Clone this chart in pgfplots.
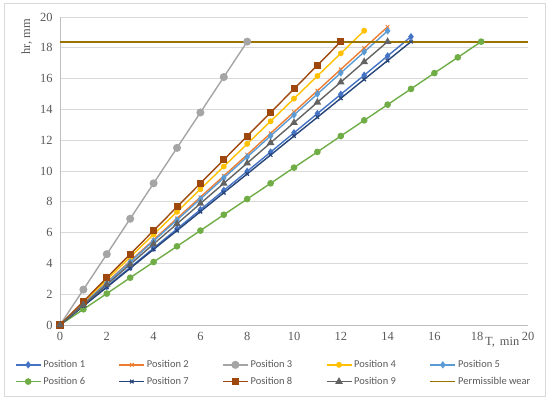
\documentclass[border=0pt]{standalone}
\usepackage{pgfplots}
\pgfplotsset{compat=1.18}
\usepackage{fontspec}
\setmainfont{Liberation Serif}
\newfontfamily\legfont{Carlito}
\definecolor{c1}{HTML}{4472C4}
\definecolor{c2}{HTML}{ED7D31}
\definecolor{c3}{HTML}{A5A5A5}
\definecolor{c4}{HTML}{FFC000}
\definecolor{c5}{HTML}{5B9BD5}
\definecolor{c6}{HTML}{70AD47}
\definecolor{c7}{HTML}{264478}
\definecolor{c8}{HTML}{9E480E}
\definecolor{c9}{HTML}{636363}
\definecolor{c10}{HTML}{997300}
\definecolor{txt}{HTML}{595959}
\definecolor{gridc}{HTML}{D9D9D9}
\definecolor{axc}{HTML}{BFBFBF}
\begin{document}
\begin{tikzpicture}
\path[use as bounding box] (0bp,0bp) rectangle (550bp,400bp);
\draw[gridc, line width=0.8bp] (4bp,4bp) rectangle (545bp,397bp);
\begin{axis}[
  at={(60bp,75bp)}, anchor=south west,
  scale only axis, width=468bp, height=308bp,
  xmin=0, xmax=20, ymin=0, ymax=20,
  xtick={0,2,...,18,20}, ytick={0,2,...,20},
  xticklabels={0,2,4,6,8,10,12,14,16,{18\hspace*{8bp}},20},
  axis line style={draw=none},
  ymajorgrids, grid style={gridc, line width=0.8bp},
  major tick length=0pt,
  tick label style={font=\fontsize{12.5}{14}\selectfont, text=txt},
  /pgf/number format/assume math mode=true,
  xticklabel style={yshift=-4bp},
  yticklabel style={xshift=-4bp},
  xlabel={T,\hspace{0.4em}min}, ylabel={hr, mm},
  label style={font=\fontsize{12.5}{14}\selectfont, text=txt},
  xlabel style={at={(axis description cs:0.908,-0.055)}, anchor=west, inner sep=0pt},
  ylabel style={at={(axis description cs:-0.071,0.935)}, anchor=center},
  clip=false,
  every axis plot/.append style={line width=1.4bp},
  legend columns=5,
  legend style={at={(axis description cs:-0.103,-0.108)}, anchor=north west, draw=none, fill=none,
    font=\legfont\fontsize{10.5}{12}\selectfont, text=txt,
    nodes={inner sep=0pt, anchor=west},
    row sep=8bp,
    /tikz/every odd column/.append style={column sep=2bp},
    /tikz/every even column/.append style={column sep=33.5bp}},
  legend cell align=left,
  legend image code/.code={\draw[mark repeat=2,mark phase=2] plot coordinates {(0bp,0bp) (12.5bp,0bp) (25bp,0bp)};},
]
\draw[axc, line width=0.8bp] (axis cs:0,0) -- (axis cs:20,0);
\draw[axc, line width=0.8bp] (axis cs:0,0) -- (axis cs:0,20);
\addplot[c1, mark=diamond*, mark size=2.6bp] coordinates {(0,0)(1,1.25)(2,2.50)(3,3.74)(4,4.99)(5,6.24)(6,7.49)(7,8.74)(8,9.98)(9,11.23)(10,12.48)(11,13.73)(12,14.98)(13,16.22)(14,17.47)(15,18.72)};
\addlegendentry{Position 1}
\addplot[c2, mark=x, mark size=2.5bp, mark options={line width=1bp}] coordinates {(0,0)(1,1.38)(2,2.77)(3,4.15)(4,5.53)(5,6.92)(6,8.30)(7,9.68)(8,11.06)(9,12.45)(10,13.83)(11,15.21)(12,16.60)(13,17.98)(14,19.36)};
\addlegendentry{Position 2}
\addplot[c3, mark=*, mark size=3.3bp] coordinates {(0,0)(1,2.3)(2,4.6)(3,6.9)(4,9.2)(5,11.5)(6,13.8)(7,16.1)(8,18.4)};
\addlegendentry{Position 3}
\addplot[c4, mark=*, mark size=2.2bp] coordinates {(0,0)(1,1.47)(2,2.94)(3,4.41)(4,5.88)(5,7.35)(6,8.82)(7,10.29)(8,11.76)(9,13.23)(10,14.70)(11,16.17)(12,17.64)(13,19.11)};
\addlegendentry{Position 4}
\addplot[c5, mark=diamond*, mark size=2.6bp] coordinates {(0,0)(1,1.36)(2,2.73)(3,4.09)(4,5.46)(5,6.82)(6,8.18)(7,9.55)(8,10.91)(9,12.28)(10,13.64)(11,15.00)(12,16.37)(13,17.73)(14,19.10)};
\addlegendentry{Position 5}
\addplot[c6, mark=*, mark size=2.6bp] coordinates {(0,0)(1,1.02)(2,2.04)(3,3.07)(4,4.09)(5,5.11)(6,6.13)(7,7.16)(8,8.18)(9,9.20)(10,10.22)(11,11.24)(12,12.27)(13,13.29)(14,14.31)(15,15.33)(16,16.36)(17,17.38)(18,18.4)};
\addlegendentry{Position 6}
\addplot[c7, mark=x, mark size=2.5bp, mark options={line width=1.2bp}] coordinates {(0,0)(1,1.23)(2,2.45)(3,3.68)(4,4.91)(5,6.13)(6,7.36)(7,8.59)(8,9.81)(9,11.04)(10,12.27)(11,13.49)(12,14.72)(13,15.95)(14,17.17)(15,18.4)};
\addlegendentry{Position 7}
\addplot[c8, mark=square*, mark size=2.8bp] coordinates {(0,0)(1,1.53)(2,3.07)(3,4.60)(4,6.13)(5,7.67)(6,9.20)(7,10.73)(8,12.27)(9,13.80)(10,15.33)(11,16.87)(12,18.4)};
\addlegendentry{Position 8}
\addplot[c9, mark=triangle*, mark size=3bp] coordinates {(0,0)(1,1.31)(2,2.63)(3,3.94)(4,5.26)(5,6.57)(6,7.89)(7,9.20)(8,10.51)(9,11.83)(10,13.14)(11,14.46)(12,15.77)(13,17.09)(14,18.4)};
\addlegendentry{Position 9}
\addplot[c10, line width=1.8bp] coordinates {(0,18.4)(20,18.4)};
\addlegendentry{Permissible wear}
\end{axis}
\end{tikzpicture}
\end{document}
